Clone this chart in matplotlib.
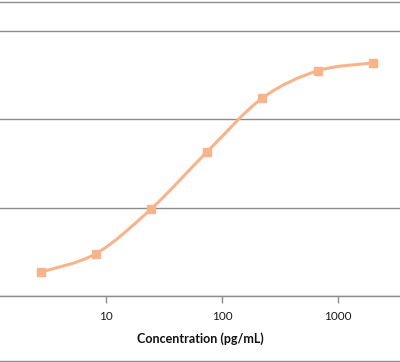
import numpy as np
import matplotlib
matplotlib.use("Agg")
import matplotlib.pyplot as plt
from matplotlib.path import Path
from matplotlib.patches import PathPatch
from matplotlib.lines import Line2D

# Standard curve (3-fold dilutions)
conc = [2.74, 8.23, 24.7, 74.1, 222.2, 666.7, 2000.0]
signal = [0.27, 0.48, 0.99, 1.63, 2.24, 2.55, 2.64]
xticks = [10, 100, 1000]
xtick_labels = ["10", "100", "1000"]
ygrid = [0, 1, 2, 3]

COLOR = "#F8B38A"
GRID = "#8C8C8C"

plt.rcParams['font.family'] = ['Lato', 'DejaVu Sans']


def smooth_path(xs, ys):
    # Excel-style smoothed line: cubic Bezier segments in (log x, y) space
    lx = np.log10(xs)
    y = np.asarray(ys, dtype=float)
    n = len(lx)
    verts = [(xs[0], y[0])]
    codes = [Path.MOVETO]
    for i in range(n - 1):
        p0 = max(i - 1, 0)
        p3 = min(i + 2, n - 1)
        c1x = lx[i] + (lx[i + 1] - lx[p0]) / 6
        c1y = y[i] + (y[i + 1] - y[p0]) / 6
        c2x = lx[i + 1] - (lx[p3] - lx[i]) / 6
        c2y = y[i + 1] - (y[p3] - y[i]) / 6
        verts += [(10 ** c1x, c1y), (10 ** c2x, c2y), (xs[i + 1], y[i + 1])]
        codes += [Path.CURVE4] * 3
    return Path(verts, codes)


fig = plt.figure(figsize=(4.0, 3.62), dpi=100)
ax = fig.add_axes([0.0, 1 - 296 / 362, 1.0, 296 / 362])

ax.set_xscale('log')
ax.set_xlim(1.226, 3413)
ax.set_ylim(0, 296 / 88.3)

ax.add_patch(PathPatch(smooth_path(conc, signal), facecolor='none',
                       edgecolor=COLOR, linewidth=2.2, capstyle='round'))
ax.plot(conc, signal, linestyle='none', marker='s', markersize=5.5,
        color=COLOR, zorder=3)

ax.set_yticks(ygrid)
ax.yaxis.grid(True, color=GRID, linewidth=1.0)
ax.tick_params(axis='y', left=False, labelleft=False)
ax.set_xticks(xticks)
ax.set_xticklabels(xtick_labels)
ax.xaxis.set_minor_locator(matplotlib.ticker.NullLocator())
ax.tick_params(axis='x', direction='out', length=5, width=1, color=GRID,
               labelsize=8.5, pad=6, labelcolor='#1a1a1a')
for side in ['top', 'left', 'right']:
    ax.spines[side].set_visible(False)
ax.spines['bottom'].set_color(GRID)
ax.spines['bottom'].set_linewidth(1.0)
ax.set_axisbelow(True)

ax.set_xlabel('Concentration (pg/mL)', fontsize=9, fontweight='bold',
              labelpad=7, color='#111111')

# outer chart frame lines visible at top and bottom of the crop
for yp in [1.5, 360.5]:
    fig.add_artist(Line2D([0, 1], [1 - yp / 362, 1 - yp / 362],
                          color=GRID, linewidth=1.0))

fig.savefig('out.png', dpi=100)
